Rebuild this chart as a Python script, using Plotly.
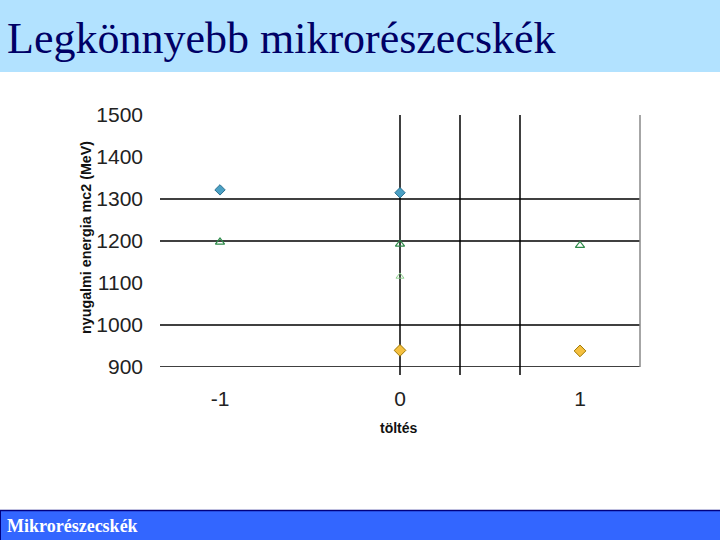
import plotly.graph_objects as go

# Data (charge vs rest energy, MeV)
xi_charge = [-1, 0]
xi_mass = [1321.7, 1314.9]
sigma_charge = [-1, 0, 1]
sigma_mass = [1197.4, 1192.6, 1189.4]
lambda_charge = [0]
lambda_mass = [1115.7]
nucleon_charge = [0, 1]
nucleon_mass = [939.6, 938.3]

y_ticks = [900, 1000, 1100, 1200, 1300, 1400, 1500]
x_ticks = [-1, 0, 1]
x_ticklabels = ["-1", "0", "1"]
h_grid = [900, 1000, 1200, 1300]
v_grid = [0, 1/3, 2/3]

W, H = 720, 540
L, R, T, B = 160, 80, 115, 173
PH = H - T - B
PW = W - L - R

def py(p):
    return (H - B - p) / PH

def px(p):
    return (p - L) / PW

fig = go.Figure()

fig.add_trace(go.Scatter(x=xi_charge, y=xi_mass, mode="markers",
    marker=dict(symbol="diamond", size=8, color="#4aa0c4",
                line=dict(color="#2a6f8f", width=1))))
fig.add_trace(go.Scatter(x=sigma_charge, y=sigma_mass, mode="markers",
    marker=dict(symbol="triangle-up-open", size=8, color="#2e8b4a",
                line=dict(width=1.2))))
fig.add_trace(go.Scatter(x=lambda_charge, y=lambda_mass, mode="markers",
    marker=dict(symbol="triangle-up-open", size=7, color="#8ccf8c",
                line=dict(width=1))))
fig.add_trace(go.Scatter(x=nucleon_charge, y=nucleon_mass, mode="markers",
    marker=dict(symbol="diamond", size=9, color="#f5c040",
                line=dict(color="#a07800", width=1))))

shapes = []
# title band
shapes.append(dict(type="rect", xref="paper", yref="paper",
    x0=px(0), x1=px(W), y0=py(72), y1=py(0),
    fillcolor="#b2e2ff", line=dict(width=0), layer="below"))
# footer band
shapes.append(dict(type="rect", xref="paper", yref="paper",
    x0=px(0), x1=px(W), y0=py(H), y1=py(510),
    fillcolor="#3366ff", line=dict(width=0), layer="below"))
shapes.append(dict(type="line", xref="paper", yref="paper",
    x0=px(0), x1=px(W), y0=py(510.5), y1=py(510.5),
    line=dict(color="#000080", width=1.5)))
shapes.append(dict(type="line", xref="paper", yref="paper",
    x0=px(0.5), x1=px(0.5), y0=py(H), y1=py(510),
    line=dict(color="#000080", width=1)))
# horizontal grid lines
for g in h_grid:
    shapes.append(dict(type="line", xref="paper", yref="y",
        x0=0, x1=1, y0=g, y1=g, line=dict(color="black", width=1.5), layer="below"))
# vertical grid lines
for g in v_grid:
    shapes.append(dict(type="line", xref="x", yref="paper",
        x0=g, x1=g, y0=py(375), y1=1, line=dict(color="black", width=1.5), layer="below"))
# right border
shapes.append(dict(type="line", xref="paper", yref="paper",
    x0=1, x1=1, y0=0, y1=1, line=dict(color="#888888", width=1.5)))

annotations = [
    dict(text="Legkönnyebb mikrorészecskék", xref="paper", yref="paper",
         x=px(5), y=py(39), xanchor="left", yanchor="middle", showarrow=False,
         font=dict(family="Liberation Serif", size=44, color="#000066")),
    dict(text="<b>Mikrorészecskék</b>", xref="paper", yref="paper",
         x=px(5), y=py(526), xanchor="left", yanchor="middle", showarrow=False,
         font=dict(family="Liberation Serif", size=18, color="white")),
    dict(text="<b>töltés</b>", xref="paper", yref="paper",
         x=px(399), y=py(428), xanchor="center", yanchor="middle", showarrow=False,
         font=dict(family="Liberation Sans", size=14, color="#111111")),
    dict(text="<b>nyugalmi energia mc2 (MeV)</b>", xref="paper", yref="paper",
         x=px(86), y=py(238), xanchor="center", yanchor="middle", showarrow=False,
         textangle=-90,
         font=dict(family="Liberation Sans", size=14.3, color="#111111")),
]

fig.update_layout(
    width=W, height=H,
    margin=dict(l=L, r=R, t=T, b=B),
    paper_bgcolor="white", plot_bgcolor="white",
    showlegend=False,
    shapes=shapes, annotations=annotations,
    xaxis=dict(range=[-4/3, 4/3], tickvals=x_ticks, ticktext=x_ticklabels,
               showgrid=False, zeroline=False, showline=False, ticks="",
               ticklabelstandoff=17,
               tickfont=dict(family="Liberation Sans", size=21, color="#222222")),
    yaxis=dict(range=[900, 1500], tickvals=y_ticks,
               showgrid=False, zeroline=False, showline=False, ticks="",
               ticklabelstandoff=16,
               tickfont=dict(family="Liberation Sans", size=21, color="#222222")),
)

fig.write_html("out.html", config={"displayModeBar": False},
               post_script="document.body.style.margin='0';")
